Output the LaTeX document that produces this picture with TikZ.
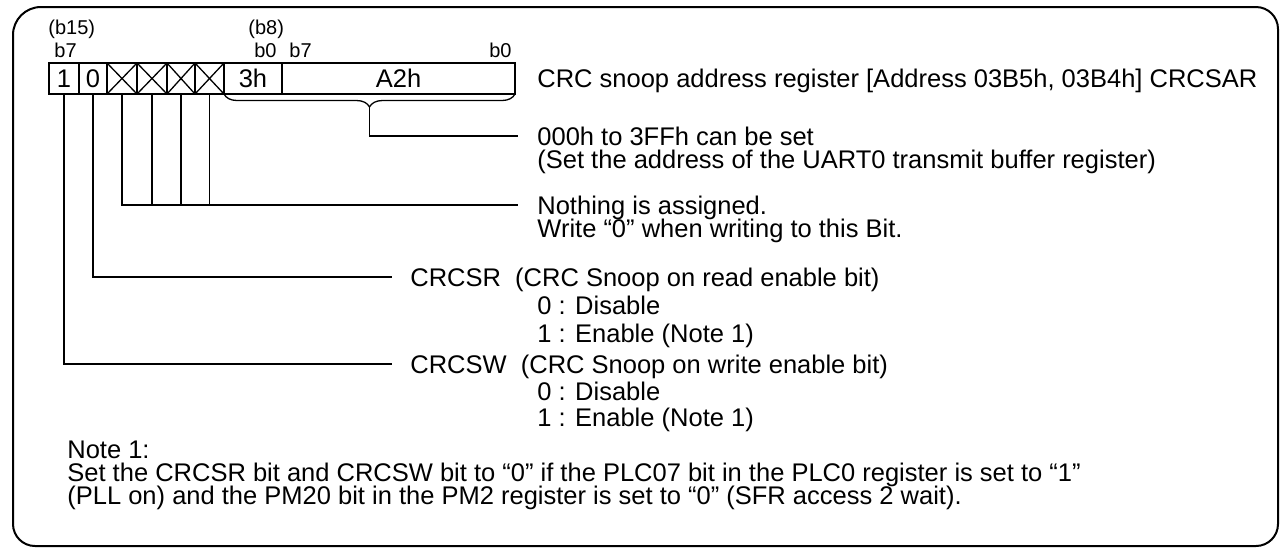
\documentclass[tikz,border=0pt]{standalone}
\usepackage{fontspec}
\setmainfont{Liberation Sans}
\usetikzlibrary{decorations.pathreplacing,calc}
\tikzset{
  frm/.style={line width=1pt},
  cell/.style={draw,line width=0.65pt,minimum height=15.5pt,inner sep=0pt,outer sep=0pt},
  ln/.style={line width=0.65pt},
  txt/.style={anchor=west,inner sep=0pt,text height=0.72em,text depth=0pt},
  lbl/.style={inner sep=0pt,font=\fontsize{10}{12}\selectfont},
  brc/.style={decorate,decoration={brace,mirror,amplitude=6.5pt},line width=0.65pt}
}

\begin{document}
\fontsize{12.75}{15}\selectfont
\begin{tikzpicture}[x=0.5pt,y=-0.5pt]
\useasboundingbox (0,0) rectangle (1284,548);
% outer frame
\draw[frm] (600,7) [rounded corners=11pt] -- (1278,7) -- (1278,546) -- (13,546) [rounded corners=14pt] -- (13,7) -- cycle;

% register cells
\node[cell,minimum width=15pt] (c1) at (64,78.5) {1};
\node[cell,minimum width=14pt] (c0) at (93,78.5) {0};
\node[cell,minimum width=15pt] (x1) at (122,78.5) {};
\node[cell,minimum width=15pt] (x2) at (152,78.5) {};
\node[cell,minimum width=14pt] (x3) at (181,78.5) {};
\node[cell,minimum width=14.5pt] (x4) at (209.5,78.5) {};
\node[cell,minimum width=29pt] (h3) at (253,78.5) {3h};
\node[cell,minimum width=116.5pt] (a2) at (398.5,78.5) {A2h};
\foreach \c in {x1,x2,x3,x4}
  \draw[ln] (\c.north west) -- (\c.south east) (\c.south west) -- (\c.north east);

% bit numbers
\node[lbl,anchor=west] (hb15) at (48,29) {(b15)};
\node[lbl,anchor=west] (hb7) at (54,50) {b7};
\node[lbl,anchor=west] (hb8) at (248,29) {(b8)};
\node[lbl,anchor=east] (hb0) at (277,50) {b0};
\node[lbl,anchor=west] (lb7) at (289,50) {b7};
\node[lbl,anchor=east] (lb0) at (512,50) {b0};

% texts
\node[txt] (title) at (537,78) {CRC snoop address register [Address 03B5h, 03B4h] CRCSAR};
\node[txt] (adr) at (537,136) {000h to 3FFh can be set};
\node[txt] (adr2) at (537,159) {(Set the address of the UART0 transmit buffer register)};
\node[txt] (nth) at (537,205) {Nothing is assigned.};
\node[txt] (nth2) at (537,228) {Write “0” when writing to this Bit.};
\node[txt] (sr) at (410,277) {CRCSR\ \ (CRC Snoop on read enable bit)};
\node[txt] (sr0) at (537,305) {0 : Disable};
\node[txt] (sr1) at (537,333) {1 : Enable (Note 1)};
\node[txt] (sw) at (410,364) {CRCSW\ \ (CRC Snoop on write enable bit)};
\node[txt] (sw0) at (537,391) {0 : Disable};
\node[txt] (sw1) at (537,417) {1 : Enable (Note 1)};
\node[txt] (nt) at (67,449) {Note 1:};
\node[txt] (nt1) at (67,472) {Set the CRCSR bit and CRCSW bit to “0” if the PLC07 bit in the PLC0 register is set to “1”};
\node[txt] (nt2) at (67,495) {(PLL on) and the PM20 bit in the PM2 register is set to “0” (SFR access 2 wait).};

% brace and leader lines
\draw[brc] (h3.south west) -- (a2.south east);
\coordinate (btip) at ($(h3.south west)!0.5!(a2.south east)+(0,-6.5pt)$);
\draw[ln] (btip) |- ([xshift=-9.5pt]adr.west);
\draw[ln] (x1.south) |- ([xshift=-9.5pt]nth.west);
\foreach \c in {x2,x3,x4}
  \draw[ln] (\c.south) -- (\c.south |- nth.west);
\draw[ln] (c0.south) |- ([xshift=-9pt]sr.west);
\draw[ln] (c1.south) |- ([xshift=-9pt]sw.west);
\end{tikzpicture}
\end{document}
